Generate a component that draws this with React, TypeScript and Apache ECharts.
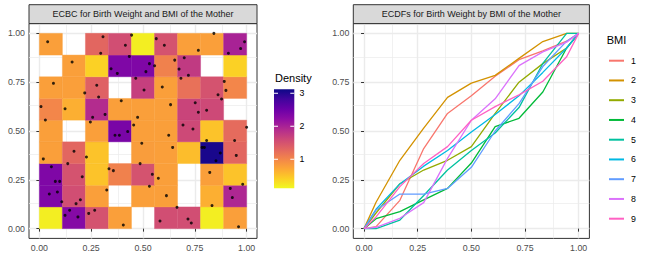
import React, { useEffect, useRef } from 'react';
import * as echarts from 'echarts';

const FONT = 'Liberation Sans';
const TICKS = [0, 0.25, 0.5, 0.75, 1];
const MINOR_TICKS = [0.125, 0.375, 0.625, 0.875];
const N_BINS = 9;

// ECBC densities, rows from bottom (row 0) to top (row 8); null = empty cell
const densityRow0 = [0.2, 2.3, 1.5, 0.78, null, 1.55, 1.55, 0.2, 0.78];
const densityRow1 = [2.35, 1.55, 0.78, null, 0.78, 0.78, null, 0.65, 1.95];
const densityRow2 = [2.35, 1.5, 0.5, 1.05, 1.5, 0.78, null, 0.78, 0.5];
const densityRow3 = [0.78, 1.3, 0.5, null, 0.8, 0.78, 0.55, 3.05, 1.3];
const densityRow4 = [0.78, null, 0.78, 2.4, 0.78, 0.78, 1.6, 0.5, 1.25];
const densityRow5 = [1.0, 0.65, 1.9, 0.78, 0.78, 0.78, 1.65, 1.6, null];
const densityRow6 = [0.78, 0.78, 1.35, null, 1.7, 0.78, 1.2, 1.5, 1.0];
const densityRow7 = [null, 0.78, 0.4, 2.35, 2.35, 1.05, 1.75, null, 0.4];
const densityRow8 = [0.78, null, 1.3, 1.55, 0.2, 1.5, 0.78, 0.78, 2.0];
const densityRows = [densityRow0, densityRow1, densityRow2, densityRow3, densityRow4, densityRow5, densityRow6, densityRow7, densityRow8];

const densityMin = 0.12;
const densityMax = 3.12;
const densityTicks = [1, 2, 3];

// observed (pseudo-observation) points
const pointX = [
  0.040, 0.307, 0.445, 0.415, 0.296, 0.564, 0.603, 0.842, 0.767, 0.990,
  0.971, 0.912, 0.158, 0.434, 0.531, 0.556, 0.346, 0.376, 0.514, 0.653,
  0.699, 0.674, 0.719, 0.683, 0.465, 0.505, 0.593, 0.068, 0.277, 0.219,
  0.286, 0.892, 0.900, 0.862, 0.879, 0.008, 0.124, 0.395, 0.317, 0.257,
  0.633, 0.752, 0.807, 0.767, 0.029, 0.246, 0.474, 0.455, 0.693, 0.741, 1.0,
  0.365, 0.386, 0.426, 0.624, 0.494, 0.643, 0.807, 0.942, 0.785, 0.796,
  0.873, 0.852, 0.950, 0.019, 0.167, 0.227, 0.137, 0.486, 0.058, 0.336,
  0.357, 0.207, 0.545, 0.574, 0.077, 0.098, 0.531, 0.325, 0.822, 0.981,
  0.921, 0.087, 0.048, 0.198, 0.177, 0.108, 0.613, 0.931, 0.833, 0.664,
  0.146, 0.124, 0.186, 0.238, 0.267, 0.582, 0.717, 0.733, 0.405, 0.961,
];
const pointY = [
  0.957, 0.983, 0.991, 0.939, 0.898, 0.973, 0.939, 1.0, 0.913, 0.957,
  0.922, 0.898, 0.853, 0.882, 0.845, 0.834, 0.819, 0.795, 0.804, 0.863,
  0.875, 0.817, 0.785, 0.770, 0.770, 0.710, 0.725, 0.744, 0.734, 0.695,
  0.674, 0.754, 0.708, 0.686, 0.664, 0.625, 0.614, 0.655, 0.585, 0.570,
  0.635, 0.645, 0.606, 0.596, 0.556, 0.546, 0.570, 0.531, 0.531, 0.510, 0.519,
  0.478, 0.478, 0.497, 0.478, 0.437, 0.416, 0.451, 0.451, 0.416, 0.416,
  0.387, 0.348, 0.375, 0.357, 0.396, 0.367, 0.333, 0.333, 0.317, 0.307,
  0.297, 0.266, 0.278, 0.258, 0.242, 0.242, 0.217, 0.198, 0.288, 0.227,
  0.206, 0.188, 0.177, 0.148, 0.128, 0.138, 0.169, 0.159, 0.118, 0.109,
  0.094, 0.068, 0.060, 0.078, 0.094, 0.039, 0.049, 0.029, 0.019, 0.010,
];

// ECDFs of birth weight by BMI group
const ecdfX = [0, 0.056, 0.167, 0.278, 0.389, 0.5, 0.611, 0.722, 0.833, 0.944, 1];
const bmi1 = [0, 0.01, 0.145, 0.41, 0.59, 0.68, 0.78, 0.865, 0.91, 0.96, 1];
const bmi2 = [0, 0.135, 0.35, 0.515, 0.672, 0.745, 0.785, 0.872, 0.958, 1, 1];
const bmi3 = [0, 0.08, 0.23, 0.30, 0.35, 0.42, 0.59, 0.75, 0.845, 0.925, 1];
const bmi4 = [0, 0.051, 0.087, 0.147, 0.206, 0.336, 0.522, 0.565, 0.70, 0.925, 1];
const bmi5 = [0, 0.0, 0.044, 0.17, 0.30, 0.40, 0.49, 0.62, 0.846, 1.0, 1];
const bmi6 = [0, 0.099, 0.229, 0.32, 0.40, 0.495, 0.585, 0.68, 0.80, 0.925, 1];
const bmi7 = [0, 0.095, 0.177, 0.177, 0.206, 0.314, 0.50, 0.64, 0.83, 0.96, 1];
const bmi8 = [0, 0.007, 0.053, 0.133, 0.36, 0.555, 0.665, 0.835, 0.905, 0.955, 1];
const bmi9 = [0, 0.06, 0.215, 0.334, 0.42, 0.555, 0.625, 0.685, 0.755, 0.88, 1];
const bmiSeries = [bmi1, bmi2, bmi3, bmi4, bmi5, bmi6, bmi7, bmi8, bmi9];
const bmiLevels = ['1', '2', '3', '4', '5', '6', '7', '8', '9'];
const bmiColors = ['#F8766D', '#D39200', '#93AA00', '#00BA38', '#00C19F', '#00B9E3', '#619CFF', '#DB72FB', '#FF61C3'];

const leftTitle = 'ECBC for Birth Weight and BMI of the Mother';
const rightTitle = 'ECDFs for Birth Weight by BMI of the Mother';

// plasma, from dark (high) to yellow (low)
const plasma = ['#0d0887', '#41049d', '#6a00a8', '#8f0da4', '#b12a90', '#cc4778', '#e16462', '#f2844b', '#fca636', '#fcce25', '#f0f921'];

// layout
const TOP = 23.6;
const HEIGHT = 214.8;
const STRIP_TOP = 4.7;
const LEFT_GRID = { left: 29, width: 228 };
const RIGHT_GRID = { left: 353.3, width: 236.1 };
const BAR = { x: 274, y: 89.3, w: 20.3, h: 99 };

function axisFor(dir: 'x' | 'y', gridIndex: number) {
  return {
    type: 'value',
    gridIndex,
    min: -0.05,
    max: 1.05,
    axisLine: { show: false },
    axisTick: { show: true, customValues: TICKS, length: 3, lineStyle: { color: '#333333', width: 1 } },
    axisLabel: {
      customValues: TICKS,
      formatter: (v: number) => v.toFixed(2),
      color: '#4d4d4d',
      fontSize: 8.8,
      fontFamily: FONT,
      margin: dir === 'x' ? 5 : 4,
    },
    splitLine: { show: true, lineStyle: { color: '#ebebeb', width: 1.4 } },
  };
}

function minorGridSeries(idx: number) {
  return {
    type: 'scatter',
    xAxisIndex: idx,
    yAxisIndex: idx,
    data: [],
    silent: true,
    z: 1,
    markLine: {
      silent: true,
      symbol: 'none',
      z: 1,
      label: { show: false },
      lineStyle: { color: '#ebebeb', width: 0.7, type: 'solid' },
      emphasis: { disabled: true },
      data: [...MINOR_TICKS.map((v) => ({ xAxis: v })), ...MINOR_TICKS.map((v) => ({ yAxis: v }))],
    },
  };
}

export default function App() {
  const ref = useRef<HTMLDivElement>(null);
  useEffect(() => {
    document.body.style.margin = '0';
    const chart = echarts.init(ref.current!, null, { renderer: 'svg' });

    const tileData: number[][] = [];
    densityRows.forEach((row, j) => {
      row.forEach((d, i) => {
        if (d !== null) tileData.push([i / N_BINS, j / N_BINS, d as number]);
      });
    });

    const barY = (v: number) => BAR.y + BAR.h - ((v - densityMin) / (densityMax - densityMin)) * BAR.h;

    const graphics: any[] = [];
    [[LEFT_GRID, leftTitle], [RIGHT_GRID, rightTitle]].forEach(([g, t]: any) => {
      graphics.push({
        type: 'rect',
        shape: { x: g.left, y: STRIP_TOP, width: g.width, height: TOP - STRIP_TOP },
        style: { fill: '#d9d9d9', stroke: '#333333', lineWidth: 1 },
        z: 20,
      });
      graphics.push({
        type: 'text',
        x: g.left + g.width / 2,
        y: (STRIP_TOP + TOP) / 2,
        style: { text: t, fill: '#1a1a1a', fontSize: 9, fontFamily: FONT, align: 'center', verticalAlign: 'middle' },
        z: 21,
      });
    });
    graphics.push({
      type: 'text', x: 275, y: 78,
      style: { text: 'Density', fill: '#000000', fontSize: 11, fontFamily: FONT, align: 'left', verticalAlign: 'middle' },
    });
    graphics.push({
      type: 'rect',
      shape: { x: BAR.x, y: BAR.y, width: BAR.w, height: BAR.h },
      style: {
        fill: new echarts.graphic.LinearGradient(0, 0, 0, 1, plasma.map((c, k) => ({ offset: k / (plasma.length - 1), color: c }))),
      },
    });
    densityTicks.forEach((v) => {
      const y = barY(v);
      graphics.push({ type: 'line', shape: { x1: BAR.x, y1: y, x2: BAR.x + 4, y2: y }, style: { stroke: '#ffffff', lineWidth: 1 } });
      graphics.push({ type: 'line', shape: { x1: BAR.x + BAR.w - 4, y1: y, x2: BAR.x + BAR.w, y2: y }, style: { stroke: '#ffffff', lineWidth: 1 } });
      graphics.push({
        type: 'text', x: 299.5, y,
        style: { text: String(v), fill: '#000000', fontSize: 8.8, fontFamily: FONT, align: 'left', verticalAlign: 'middle' },
      });
    });
    graphics.push({
      type: 'text', x: 606.7, y: 40,
      style: { text: 'BMI', fill: '#000000', fontSize: 11, fontFamily: FONT, align: 'left', verticalAlign: 'middle' },
    });

    const option: any = {
      animation: false,
      backgroundColor: '#ffffff',
      grid: [
        { left: LEFT_GRID.left, top: TOP, width: LEFT_GRID.width, height: HEIGHT, show: true, borderColor: '#333333', borderWidth: 1, backgroundColor: 'transparent' },
        { left: RIGHT_GRID.left, top: TOP, width: RIGHT_GRID.width, height: HEIGHT, show: true, borderColor: '#333333', borderWidth: 1, backgroundColor: 'transparent' },
      ],
      xAxis: [axisFor('x', 0), axisFor('x', 1)],
      yAxis: [axisFor('y', 0), axisFor('y', 1)],
      visualMap: {
        show: false,
        type: 'continuous',
        seriesIndex: 2,
        dimension: 2,
        min: densityMin,
        max: densityMax,
        inRange: { color: plasma.slice().reverse() },
      },
      legend: {
        orient: 'vertical',
        left: 609,
        top: 54.7,
        padding: 0,
        itemWidth: 15,
        itemHeight: 2,
        itemGap: 7.75,
        icon: 'rect',
        selectedMode: false,
        data: bmiLevels,
        textStyle: { fontSize: 8.8, fontFamily: FONT, color: '#000000', lineHeight: 12, padding: [0, 0, 0, 2] },
      },
      graphic: graphics,
      series: [
        minorGridSeries(0),
        minorGridSeries(1),
        {
          type: 'custom',
          xAxisIndex: 0,
          yAxisIndex: 0,
          z: 10,
          silent: true,
          data: tileData,
          encode: { x: 0, y: 1 },
          renderItem: (params: any, api: any) => {
            const x0 = api.value(0);
            const y0 = api.value(1);
            const tl = api.coord([x0, y0 + 1 / N_BINS]);
            const br = api.coord([x0 + 1 / N_BINS, y0]);
            const color = api.visual('color');
            return {
              type: 'rect',
              shape: { x: tl[0], y: tl[1], width: br[0] - tl[0], height: br[1] - tl[1] },
              style: { fill: color, stroke: color, lineWidth: 0.4 },
            };
          },
        },
        {
          type: 'scatter',
          xAxisIndex: 0,
          yAxisIndex: 0,
          z: 11,
          silent: true,
          symbolSize: 3,
          itemStyle: { color: '#000000' },
          data: pointX.map((x, k) => [x, pointY[k]]),
        },
        ...bmiSeries.map((vals, k) => ({
          type: 'line',
          name: bmiLevels[k],
          xAxisIndex: 1,
          yAxisIndex: 1,
          z: 10,
          silent: true,
          showSymbol: false,
          symbol: 'none',
          color: bmiColors[k],
          lineStyle: { width: 1.3, color: bmiColors[k] },
          data: ecdfX.map((x, i) => [x, vals[i]]),
        })),
      ],
    };
    chart.setOption(option);
    return () => chart.dispose();
  }, []);
  return <div ref={ref} style={{ width: 648, height: 259 }} />;
}
